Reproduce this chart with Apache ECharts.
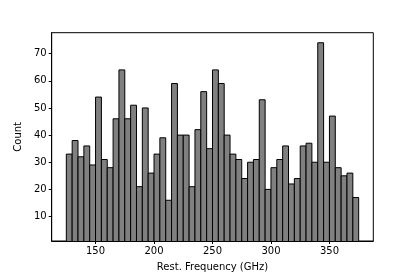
<!DOCTYPE html>
<html><head><meta charset="utf-8">
<script src="https://cdn.jsdelivr.net/npm/echarts@6/dist/echarts.min.js"></script>
<style>html,body{margin:0;padding:0;background:#fff}#c{width:415px;height:277px}</style>
</head><body><div id="c"></div>
<script>
const binStart = 125;
const binWidth = 5;
const counts = [33,38,32,36,29,54,31,28,46,64,46,51,21,50,26,33,39,16,59,40,40,21,42,56,35,64,59,40,33,31,24,30,31,53,20,28,31,36,22,24,36,37,30,74,30,47,28,25,26,17];
const xTicks = [150,200,250,300,350];
const yTicks = [10,20,30,40,50,60,70];
const xTitle = 'Rest. Frequency (GHz)';
const yTitle = 'Count';

const data = counts.map((c,i)=>[binStart+i*binWidth, binStart+(i+1)*binWidth, c]);
const font = 'DejaVu Sans';
const chart = echarts.init(document.getElementById('c'), null, {renderer:'canvas'});
chart.setOption({
  animation:false,
  grid:{left:51.7, top:32.7, right:41.7, bottom:34.7, show:true, borderColor:'#000', borderWidth:1, backgroundColor:'transparent'},
  xAxis:{type:'value', min:112.5, max:387.5, name:xTitle, nameLocation:'middle', nameGap:21,
    nameTextStyle:{fontFamily:font, fontSize:10, color:'#000'},
    axisLine:{show:true, lineStyle:{color:'#000', width:1}},
    axisTick:{show:true, length:3, lineStyle:{color:'#000'}, customValues:xTicks},
    axisLabel:{fontFamily:font, fontSize:10, color:'#000', margin:5, customValues:xTicks},
    splitLine:{show:false}},
  yAxis:{type:'value', min:1, max:77.7, name:yTitle, nameLocation:'middle', nameGap:25,
    nameTextStyle:{fontFamily:font, fontSize:10, color:'#000'},
    axisLine:{show:true, lineStyle:{color:'#000', width:1}},
    axisTick:{show:true, length:3, lineStyle:{color:'#000'}, customValues:yTicks},
    axisLabel:{fontFamily:font, fontSize:10, color:'#000', margin:5, customValues:yTicks},
    splitLine:{show:false}},
  series:[{type:'custom', clip:true, data:data,
    encode:{x:[0,1], y:2},
    renderItem:function(params, api){
      const p0 = api.coord([api.value(0), api.value(2)]);
      const p1 = api.coord([api.value(1), 0]);
      return {type:'rect', shape:{x:p0[0], y:p0[1], width:p1[0]-p0[0], height:p1[1]-p0[1]},
        style:{fill:'#808080', stroke:'#000', lineWidth:1}};
    }}]
});
</script></body></html>
